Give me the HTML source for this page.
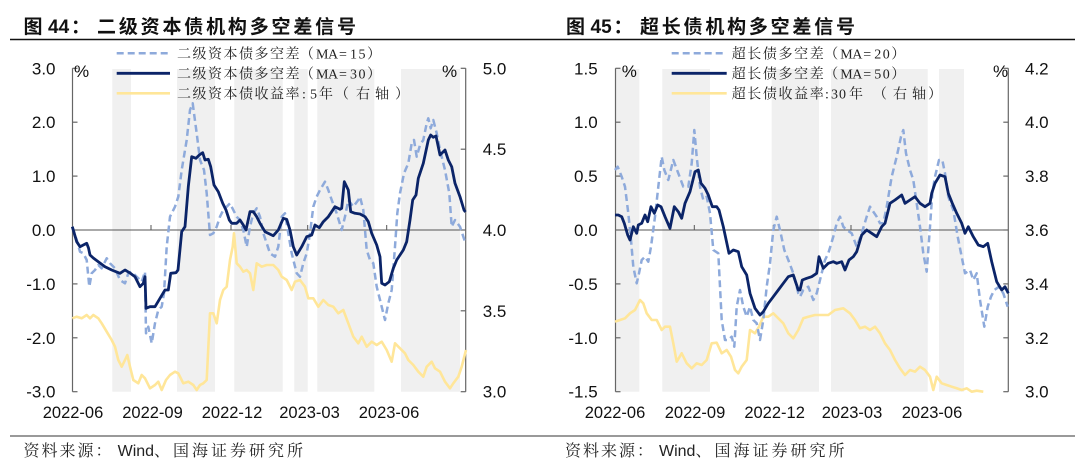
<!DOCTYPE html>
<html><head><meta charset="utf-8"><style>
html,body{margin:0;padding:0;background:#fff;}
svg{display:block;}
.t{font-family:"Liberation Sans","Noto Sans CJK SC",sans-serif;font-weight:bold;font-size:19px;fill:#111;}
.lg{font-family:"Liberation Serif","Noto Serif CJK SC",serif;font-size:14px;fill:#222;}
.ax{font-family:"Liberation Sans",sans-serif;font-size:17px;fill:#111;}
.xl{font-family:"Liberation Sans",sans-serif;font-size:16.5px;fill:#111;text-anchor:middle;}
.src{font-family:"Liberation Sans","Noto Serif CJK SC",serif;font-size:16px;fill:#222;}
.nv{fill:none;stroke:#0b2468;stroke-width:2.8;stroke-linejoin:round;}
.db{fill:none;stroke:#8eaadb;stroke-width:2.5;stroke-dasharray:7,4;stroke-linejoin:round;}
.yl{fill:none;stroke:#ffe699;stroke-width:2.6;stroke-linejoin:round;}
.sh{fill:#f0f0f0;}
</style></head><body>
<svg width="1080" height="468" viewBox="0 0 1080 468" xmlns="http://www.w3.org/2000/svg">
<!-- titles -->
<text class="t" x="23.5" y="33">图</text>
<text class="t" x="48" y="33">44</text>
<text class="t" x="71" y="33">：</text>
<text class="t" x="97" y="33" textLength="259" lengthAdjust="spacing">二级资本债机构多空差信号</text>
<text class="t" x="566" y="33">图</text>
<text class="t" x="590.5" y="33">45</text>
<text class="t" x="613.5" y="33">：</text>
<text class="t" x="640" y="33" textLength="215" lengthAdjust="spacing">超长债机构多空差信号</text>
<line x1="10" y1="39.5" x2="1075" y2="39.5" stroke="#111" stroke-width="1.5"/>
<line x1="10" y1="436" x2="1075" y2="436" stroke="#333" stroke-width="1"/>
<!-- source -->
<text class="src" x="23.5" y="456" style="letter-spacing:2px">资料来源：</text>
<text class="src" x="117.6" y="456">Wind</text>
<text class="src" x="154" y="456" style="letter-spacing:3px">、国海证券研究所</text>
<text class="src" x="565" y="456" style="letter-spacing:2px">资料来源：</text>
<text class="src" x="659" y="456">Wind</text>
<text class="src" x="695.5" y="456" style="letter-spacing:3px">、国海证券研究所</text>

<!-- ===== LEFT CHART ===== -->
<g>
<rect class="sh" x="112.3" y="69" width="18.7" height="322.7"/>
<rect class="sh" x="177" y="69" width="38" height="322.7"/>
<rect class="sh" x="234.3" y="69" width="48.4" height="322.7"/>
<rect class="sh" x="294.3" y="69" width="13.4" height="322.7"/>
<rect class="sh" x="317.3" y="69" width="57" height="322.7"/>
<rect class="sh" x="401" y="69" width="59" height="322.7"/>
<line x1="72.5" y1="230" x2="465.7" y2="230" stroke="#555" stroke-width="1"/>
<g stroke="#555" stroke-width="1">
<line x1="151" y1="230" x2="151" y2="225"/><line x1="231" y1="230" x2="231" y2="225"/>
<line x1="307.7" y1="230" x2="307.7" y2="225"/><line x1="386.7" y1="230" x2="386.7" y2="225"/>
</g>
<!-- axes -->
<g stroke="#666" stroke-width="1.2" fill="none">
<line x1="72.5" y1="68.3" x2="72.5" y2="391.7"/>
<line x1="465.7" y1="68.3" x2="465.7" y2="391.7"/>
<line x1="72.5" y1="68.3" x2="77.5" y2="68.3"/><line x1="72.5" y1="122.2" x2="77.5" y2="122.2"/>
<line x1="72.5" y1="176.1" x2="77.5" y2="176.1"/><line x1="72.5" y1="230" x2="77.5" y2="230"/>
<line x1="72.5" y1="283.9" x2="77.5" y2="283.9"/><line x1="72.5" y1="337.8" x2="77.5" y2="337.8"/>
<line x1="72.5" y1="391.7" x2="77.5" y2="391.7"/>
<line x1="460.7" y1="68.3" x2="465.7" y2="68.3"/><line x1="460.7" y1="149.2" x2="465.7" y2="149.2"/>
<line x1="460.7" y1="230" x2="465.7" y2="230"/><line x1="460.7" y1="310.8" x2="465.7" y2="310.8"/>
<line x1="460.7" y1="391.7" x2="465.7" y2="391.7"/>
</g>
<polyline class="yl" points="72.3,318.3 76.7,316.7 81.7,318.3 86.7,315 90,318.3 93.3,315 98.3,318.3 101.7,323.3 106.7,331.7 111.7,340 115,346.7 118.3,360 121.7,366.7 125,360 127.3,355 130,366.7 133.3,380 138.3,383.3 141.7,375 145,378.3 150,388.3 155,385 158.3,381.7 161.7,390 166,380 170,375 175,371.7 178.3,373.3 183.3,383.3 188.3,381.7 193.3,385 196.7,390 200,385 203.3,383.3 206.7,380 210,313.3 213.3,313.3 216.7,323.3 220,300 223.3,290 226.7,286.7 230,260 232.7,246.7 234,233.3 236.7,263.3 240,266.7 243.3,271.7 246.7,270 250,273.3 253.3,290 256.7,263.3 261.7,266.7 266.7,265 273.3,265 278.3,270 281.7,276.7 286.7,280 291.7,290 295,281.7 300,280 305,286.7 308.3,298.3 313.3,298.3 318.3,306.7 323.3,300 328.3,305 333.3,306.7 338.3,313.3 343.3,310 348.3,323.3 353.3,336.7 358.3,343.3 361.7,336.7 366.7,346.7 371.7,341.7 376.7,345 381.7,341.7 386.7,350 391.7,361.7 395,343.3 400,348.3 405,353.3 408.3,360 413.3,365 418.3,371.7 423.3,376.7 426.7,366.7 431.7,361.7 435,368.3 440,371.7 445,381.7 450,388.3 453.3,383.3 458.3,376.7 461.7,366.7 466,350"/>
<polyline class="db" points="72.3,226.7 76.7,240 80,251.7 83.3,253.3 86.7,260 89.3,286.7 91.7,273.3 95,270 98.3,265 101.7,268.3 106.7,258.3 110,263.3 115,268.3 120,280 125,283.3 128.3,273.3 131.7,271.7 136.7,276.7 141.7,281.7 145,271.7 146,333.3 148.3,326.7 151.7,343.3 155,323.3 158.3,310 161.7,306.7 164,293.3 166.7,246.7 170,216.7 175,206.7 178.3,196.7 181.7,170 186.7,140 190,110 192.7,103.3 194,113.3 196.7,133.3 200,160 204,170 206.7,193.3 210,235 213.3,233.3 216.7,226.7 220,216.7 223.3,210 226.7,206.7 230,203.3 233.3,210 236.7,216.7 240,220 243.3,230 246.7,246.7 250,226.7 253.3,213.3 256.7,208.3 260,216.7 263.3,233.3 266.7,243.3 270,253.3 275,256.7 278.3,246.7 281.7,216.7 285,213.3 288.3,233.3 291.7,253.3 296.7,273.3 300,276.7 303.3,263.3 306.7,253.3 310,233.3 313.3,206.7 316.7,196.7 320,190 325,181.7 328.3,190 331.7,200 336.7,213.3 341.7,230 345,216.7 348.3,200 353.3,206.7 358.3,200 360,196.7 363.3,210 366.7,250 370,260 373.3,263.3 376.7,286.7 381.7,306.7 385,320 388.3,303.3 391.7,290 395,246.7 397.3,213.3 400,193.3 404,173.3 408.3,163.3 411.7,143.3 414,140 416.7,156.7 420,145 423.3,140 426.7,123.3 428.3,118.3 430.7,128.3 433.3,120 436.7,133.3 440,150 445,170 449.3,193.3 451.7,226.7 455,220 460,226.7 465,241.7"/>
<polyline class="nv" points="72.3,226.7 76.7,241.7 80,246.7 83.3,245 86.7,243.3 88.5,248 90,255 93.3,258 98.3,261.7 105,266.7 111.7,270 120,273.3 125,270 130,273 135,276.7 140,286.7 143.3,283.3 145,276.7 146,308.3 150,306.7 155,306.7 160,298.3 165,290 168.3,290 170.7,273.3 176,272.7 178,270 181.7,231.7 185,226.7 188.3,186.7 191.7,156.7 196,158.3 199.3,155 202.7,152.7 205,160 208.3,159.3 210.7,166.7 214,185 218.3,191.7 222.7,203.3 226,210 229.3,220 231.7,223.3 236.7,223.3 240,220 243.3,225 246,230 250,211.7 253.3,211.7 256.7,216.7 260,223.3 265,231.7 273.3,235.7 278.3,230 283.3,218.3 286.7,219.3 290,230 293.3,246.7 296.7,255 301.7,246.7 306.7,236.7 311.7,235 315,225 319.3,227.7 323.3,221.7 328.3,216.7 331.7,211.7 335,206.7 340,209.3 341.7,208.3 344.3,181.7 348.3,190 350.7,211.7 355,213.3 360,214 365,216.7 368.3,221.7 371.7,233.3 376.7,245 380,256.7 381.7,283.3 385,285 389.3,281.7 393.3,268.3 396.7,260 400,255 403.3,250 406.7,241.7 410,220 412.7,200 416,195 418.3,178.3 423.3,163.3 428.3,140 430.7,135 433.3,137.3 436,136 440,155 445,150 448.3,160 451.7,166.7 455,183.3 460,196.7 464,210 465.5,212"/>
<!-- labels -->
<g class="ax" text-anchor="end">
<text x="55.5" y="74.3">3.0</text><text x="55.5" y="128.2">2.0</text><text x="55.5" y="182.1">1.0</text>
<text x="55.5" y="236">0.0</text><text x="55.5" y="289.9">-1.0</text><text x="55.5" y="343.8">-2.0</text><text x="55.5" y="397.7">-3.0</text>
</g>
<g class="ax">
<text x="482.7" y="74.3">5.0</text><text x="482.7" y="155.2">4.5</text><text x="482.7" y="236">4.0</text>
<text x="482.7" y="316.8">3.5</text><text x="482.7" y="397.7">3.0</text>
<text x="74" y="77">%</text><text x="442" y="77">%</text>
</g>
<g class="xl">
<text x="73" y="418">2022-06</text><text x="152.5" y="418">2022-09</text><text x="232" y="418">2022-12</text>
<text x="309.5" y="418">2023-03</text><text x="389" y="418">2023-06</text>
</g>
<!-- legend -->
<line x1="116.7" y1="53.3" x2="170" y2="53.3" class="db"/>
<line x1="116.7" y1="73.3" x2="170" y2="73.3" class="nv"/>
<line x1="116.7" y1="93.3" x2="170" y2="93.3" class="yl"/>
<text class="lg" y="58.3" x="177 192.5 208 223.5 239 254.5 270 285.5 300 316 328 339 350 358.5 367">二级资本债多空差（MA=15）</text>
<text class="lg" y="78.3" x="177 192.5 208 223.5 239 254.5 270 285.5 300 316 328 339 350 358.5 367">二级资本债多空差（MA=30）</text>
<text class="lg" y="98.3" x="177 192.5 208 223.5 239 254.5 270 285.5 302 310 319 335 356 375 395">二级资本债收益率:5年（右轴）</text>
</g>

<!-- ===== RIGHT CHART ===== -->
<g>
<rect class="sh" x="615.7" y="69" width="23.6" height="322.7"/>
<rect class="sh" x="662.3" y="69" width="47.7" height="322.7"/>
<rect class="sh" x="771.7" y="69" width="47.3" height="322.7"/>
<rect class="sh" x="831" y="69" width="96.7" height="322.7"/>
<rect class="sh" x="939" y="69" width="25" height="322.7"/>
<line x1="615.5" y1="230" x2="1008.3" y2="230" stroke="#555" stroke-width="1"/>
<g stroke="#555" stroke-width="1">
<line x1="694.3" y1="230" x2="694.3" y2="225"/><line x1="773.3" y1="230" x2="773.3" y2="225"/>
<line x1="851" y1="230" x2="851" y2="225"/><line x1="930" y1="230" x2="930" y2="225"/>
</g>
<g stroke="#666" stroke-width="1.2" fill="none">
<line x1="615.5" y1="68.3" x2="615.5" y2="391.7"/>
<line x1="1008.3" y1="68.3" x2="1008.3" y2="391.7"/>
<line x1="615.5" y1="68.3" x2="620.5" y2="68.3"/><line x1="615.5" y1="122.2" x2="620.5" y2="122.2"/>
<line x1="615.5" y1="176.1" x2="620.5" y2="176.1"/><line x1="615.5" y1="230" x2="620.5" y2="230"/>
<line x1="615.5" y1="283.9" x2="620.5" y2="283.9"/><line x1="615.5" y1="337.8" x2="620.5" y2="337.8"/>
<line x1="615.5" y1="391.7" x2="620.5" y2="391.7"/>
<line x1="1003.3" y1="68.3" x2="1008.3" y2="68.3"/><line x1="1003.3" y1="122.2" x2="1008.3" y2="122.2"/>
<line x1="1003.3" y1="176.1" x2="1008.3" y2="176.1"/><line x1="1003.3" y1="230" x2="1008.3" y2="230"/>
<line x1="1003.3" y1="283.9" x2="1008.3" y2="283.9"/><line x1="1003.3" y1="337.8" x2="1008.3" y2="337.8"/>
<line x1="1003.3" y1="391.7" x2="1008.3" y2="391.7"/>
</g>
<polyline class="yl" points="615,321.7 620,320 625,318.3 630,313.3 635,310 640,300 643.3,303.3 646.7,313.3 651.7,320 656.7,320 661.7,330 665,326.7 670,326.7 673.3,343.3 676.7,361.7 681.7,353.3 686.7,363.3 691.7,368.3 696.7,363.3 701.7,365 706.7,360 711.7,343.3 716.7,342.7 721.7,353.3 726.7,350 731,356.7 735,370 738.3,373.3 741.7,366.7 746.7,360 750,330 755,333.3 759,326.7 763.3,316.7 768.3,316.7 773.3,313.3 778.3,318.3 783.3,323.3 788.3,333.3 793.3,338.3 798.3,330 803.3,318.3 808.3,316.7 815,315 821.7,315 828.3,315 835,310 843.3,308.3 850,313.3 855,320 860,328.3 865,326.7 870,330 875,326.7 880,333.3 885,343.3 890,350 895,360 900,368.3 905,375 910,370 915,371.7 920,366.7 925,370 930,376.7 933.3,390 936.7,376.7 941.7,383.3 946.7,385 951.7,386.7 956.7,388.3 961.7,390 966.7,388.3 971.7,391.7 976.7,390.7 983.3,391.7"/>
<polyline class="db" points="615,170 617.7,166.7 621.7,176.7 625,186.7 628.3,213.3 631,240 633.3,266.7 636.7,283.3 639,273.3 641.7,260 645,256.7 648.3,261.7 651,246.7 655,216.7 658.3,186.7 661.7,156.7 664.3,170 668.3,180 673.3,160 678.3,173.3 683.3,186.7 688.3,186.7 691.7,163.3 694.3,130 696.7,156.7 700,186.7 703.3,200 706.7,196.7 710,213.3 713.3,250 718.3,253.3 721.7,320 725,340 728.3,340 731.7,336.7 734.3,346.7 736.7,306.7 740,290 743.3,306.7 746.7,316.7 750,306.7 753.3,320 756.7,323.3 760,340 763.3,320 766.7,286.7 770,263.3 773.3,230 776.7,216.7 780,230 784.3,250 788.3,260 793.3,273.3 798.3,293.3 800,296.7 803.3,290 808.3,286.7 813.3,300 816.7,293.3 820,280 825,260 828.3,253.3 833.3,236.7 836.7,223.3 840,216.7 843.3,226.7 846.7,230 851.7,233.3 856.7,246.7 861.7,233.3 866.7,216.7 870,206.7 873.3,211.7 876.7,216.7 880,223.3 883.3,223.3 886.7,206.7 891.7,176.7 896.7,156.7 901,136.7 903.3,130 906,153.3 910,170 913.3,180 916.7,203.3 920,226.7 923.3,253.3 926.7,271.7 930,226.7 932.3,193.3 935,176.7 939,160 942.3,160 945,173.3 948.3,196.7 953.3,210 957.7,236.7 961,253.3 965,273.3 970,270 973.3,280 976.7,273.3 980,300 984.3,326.7 987.7,306.7 991,296.7 994.3,290 999,286.7 1003.3,293.3 1007.7,306.7"/>
<polyline class="nv" points="615,215 618.3,215 621.7,216.7 624.3,223.3 627.7,235 630,240 633.3,226.7 636.7,233.3 638.3,225 641.7,223.3 645,215 647.7,221.7 651,206.7 654.3,213.3 657.7,205 661,206.7 665,216.7 670,228.3 674.3,206.7 678.3,211.7 681.7,218.3 685,203.3 690,191.7 695,171.7 698.3,170 701,183.3 705,188.3 708.3,195 712.3,206.7 716.7,206.7 719,210 723.3,226.7 729,253.3 733.3,250 738.3,251.7 741.7,266.7 746.7,275 750,293.3 755,308.3 760,315 763.3,311.7 768.3,303.3 773.3,296.7 778.3,290 783.3,283.3 788.3,276.7 793.3,275 798.3,290 800,290 802.3,280 806.7,278.3 811.7,276.7 816.7,273.3 819,256.7 823.3,268.3 828.3,263.3 833.3,261.7 836.7,263.3 841.7,261.7 845,270 849,260 853.3,256.7 856.7,251.7 861.7,235 866.7,230 871.7,233.3 876.7,236.7 881.7,226.7 885,223.3 890,203.3 895,200 901.7,195 905,203.3 910,200 915,196.7 920,203.3 925,206.7 930,203.3 931.7,193.3 935,183.3 940,175 945,176.7 948.3,193.3 952.3,203.3 956.7,213.3 961.7,223.3 965,233.3 968.3,226.7 973.3,236.7 978.3,245 983.3,246.7 987.7,243.3 991.7,261.7 996.7,281.7 1001.7,290 1005,286.7 1008.3,293.3"/>
<g class="ax" text-anchor="end">
<text x="597.7" y="74.3">1.5</text><text x="597.7" y="128.2">1.0</text><text x="597.7" y="182.1">0.5</text>
<text x="597.7" y="236">0.0</text><text x="597.7" y="289.9">-0.5</text><text x="597.7" y="343.8">-1.0</text><text x="597.7" y="397.7">-1.5</text>
</g>
<g class="ax">
<text x="1025" y="74.3">4.2</text><text x="1025" y="128.2">4.0</text><text x="1025" y="182.1">3.8</text>
<text x="1025" y="236">3.6</text><text x="1025" y="289.9">3.4</text><text x="1025" y="343.8">3.2</text><text x="1025" y="397.7">3.0</text>
<text x="621.7" y="77">%</text><text x="993" y="77">%</text>
</g>
<g class="xl">
<text x="615" y="418">2022-06</text><text x="695" y="418">2022-09</text><text x="774.6" y="418">2022-12</text>
<text x="852" y="418">2023-03</text><text x="932" y="418">2023-06</text>
</g>
<line x1="671.7" y1="53.3" x2="726.7" y2="53.3" class="db"/>
<line x1="671.7" y1="73.3" x2="726.7" y2="73.3" class="nv"/>
<line x1="671.7" y1="93.3" x2="726.7" y2="93.3" class="yl"/>
<text class="lg" y="58.3" x="731.7 747.3 762.9 778.5 794.1 809.7 824.2 840.2 852.2 863.2 874.2 882.7 891.2">超长债多空差（MA=20）</text>
<text class="lg" y="78.3" x="731.7 747.3 762.9 778.5 794.1 809.7 824.2 840.2 852.2 863.2 874.2 882.7 891.2">超长债多空差（MA=50）</text>
<text class="lg" y="98.3" x="731.7 747.3 762.9 778.5 794.1 809.7 825 831 839 849 873 893 912 928">超长债收益率:30年（右轴）</text>
</g>
</svg>
</body></html>
